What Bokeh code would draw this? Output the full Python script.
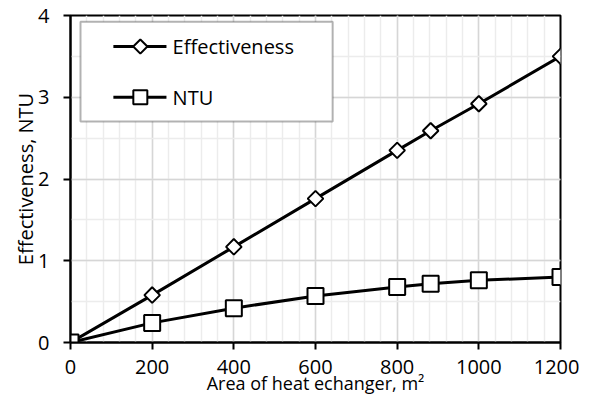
import math
from bokeh.plotting import figure
from bokeh.models import SingleIntervalTicker, BoxAnnotation
from bokeh.core.properties import value
from bokeh.embed import file_html
from bokeh.resources import INLINE

# ---- data ----
area = [0, 200, 400, 600, 800, 882, 1000, 1200]
effectiveness = [0.0, 0.58, 1.17, 1.76, 2.35, 2.59, 2.92, 3.50]
ntu = [0.0, 0.24, 0.42, 0.57, 0.68, 0.72, 0.76, 0.80]
x_label = "Area of heat echanger, m\u00b2"
y_label = "Effectiveness, NTU"
series_names = ["Effectiveness", "NTU"]

FONT = "Open Sans"

p = figure(width=579, height=398, x_range=(0, 1200), y_range=(0, 4),
           output_backend="svg", toolbar_location=None,
           min_border_left=70, min_border_right=19, min_border_top=15, min_border_bottom=56)

p.background_fill_color = "white"
p.border_fill_color = "white"
p.outline_line_color = "black"
p.outline_line_width = 2

xt = SingleIntervalTicker(interval=200, num_minor_ticks=5)
yt = SingleIntervalTicker(interval=1, num_minor_ticks=2)
p.xaxis.ticker = xt
p.yaxis.ticker = yt
p.xgrid.ticker = xt
p.ygrid.ticker = yt

for g in (p.xgrid, p.ygrid):
    g.grid_line_color = "#d6d6d6"
    g.grid_line_width = 1.5
    g.minor_grid_line_color = "#ececec"
    g.minor_grid_line_width = 1.5

for ax in (p.xaxis, p.yaxis):
    ax.axis_line_color = "black"
    ax.axis_line_width = 2
    ax.major_tick_line_color = "black"
    ax.major_tick_line_width = 2
    ax.major_tick_out = 7
    ax.major_tick_in = 0
    ax.minor_tick_out = 0
    ax.minor_tick_in = 0
    ax.major_label_text_font = FONT
    ax.major_label_text_font_size = "20px"
    ax.major_label_text_color = "black"
    ax.axis_label_text_font = FONT
    ax.axis_label_text_font_style = "normal"
    ax.axis_label_text_color = "black"

p.xaxis.axis_label = x_label
p.yaxis.axis_label = y_label
p.xaxis.axis_label_text_font_size = "18px"
p.yaxis.axis_label_text_font_size = "20px"
p.xaxis.major_label_standoff = 10
p.xaxis.axis_label_standoff = -6
p.yaxis.major_label_standoff = 14
p.yaxis.axis_label_standoff = -4

# legend frame (drawn under the series)
box = BoxAnnotation(left=24.5, right=642, top=3.924, bottom=2.703,
                    fill_color="white", fill_alpha=1.0,
                    line_color="black", line_width=2, level="underlay")
p.add_layout(box)

# series
p.line(area, effectiveness, line_color="black", line_width=3)
p.scatter(area, effectiveness, marker="square", size=11, angle=math.pi / 4,
          fill_color="white", line_color="black", line_width=2)
p.line(area, ntu, line_color="black", line_width=3)
p.scatter(area, ntu, marker="square", size=16,
          fill_color="white", line_color="black", line_width=2)

# legend samples (layout positions, in data units of the frame)
leg_x0, leg_x1, leg_xm, leg_tx = 105, 235, 171, 250
leg_y = [3.62, 3.00]
p.line([leg_x0, leg_x1], [leg_y[0], leg_y[0]], line_color="black", line_width=3)
p.scatter([leg_xm], [leg_y[0]], marker="square", size=10, angle=math.pi / 4,
          fill_color="white", line_color="black", line_width=2)
p.line([leg_x0, leg_x1], [leg_y[1], leg_y[1]], line_color="black", line_width=3)
p.scatter([leg_xm], [leg_y[1]], marker="square", size=14,
          fill_color="white", line_color="black", line_width=2)
p.text([leg_tx, leg_tx], leg_y, text=series_names, text_font=value(FONT),
       text_font_size=value("20px"), text_baseline="middle", text_align="left",
       text_color="black")

open("out.html", "w").write(file_html(p, INLINE))
